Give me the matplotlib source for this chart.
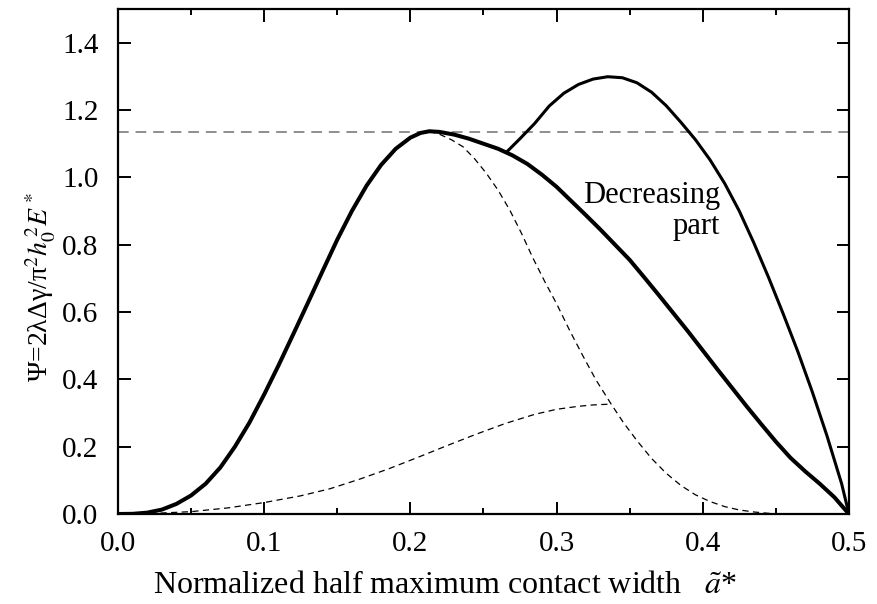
import matplotlib
matplotlib.use("Agg")
import matplotlib.pyplot as plt
from matplotlib.ticker import MultipleLocator, FormatStrFormatter

plt.rcParams["font.family"] = ["Liberation Serif", "DejaVu Serif"]
plt.rcParams["mathtext.fontset"] = "stix"

# main curve (full branch)
main_x = [0.000, 0.010, 0.020, 0.030, 0.040, 0.050, 0.060, 0.070, 0.080, 0.090,
          0.100, 0.110, 0.120, 0.130, 0.140, 0.150, 0.160, 0.170, 0.180, 0.190,
          0.200, 0.207, 0.213, 0.220, 0.230, 0.240, 0.250, 0.260, 0.270, 0.280,
          0.290, 0.300, 0.310, 0.320, 0.330, 0.340, 0.350, 0.360, 0.370, 0.380,
          0.390, 0.400, 0.410, 0.420, 0.430, 0.440, 0.450, 0.460, 0.470, 0.480,
          0.490, 0.500]
main_y = [0.000, 0.0005, 0.004, 0.013, 0.030, 0.055, 0.090, 0.138, 0.200, 0.272,
          0.355, 0.443, 0.535, 0.628, 0.722, 0.815, 0.900, 0.975, 1.037, 1.085,
          1.118, 1.132, 1.137, 1.135, 1.127, 1.115, 1.100, 1.085, 1.065, 1.040,
          1.008, 0.972, 0.930, 0.888, 0.845, 0.800, 0.755, 0.703, 0.650, 0.596,
          0.542, 0.486, 0.430, 0.375, 0.320, 0.267, 0.215, 0.167, 0.127, 0.090,
          0.050, 0.000]

# upper branch
upper_x = [0.266, 0.275, 0.285, 0.295, 0.305, 0.315, 0.325, 0.335, 0.345, 0.355,
           0.365, 0.375, 0.385, 0.395, 0.405, 0.415, 0.425, 0.435, 0.445, 0.455,
           0.465, 0.475, 0.485, 0.495, 0.500]
upper_y = [1.076, 1.115, 1.160, 1.212, 1.250, 1.276, 1.292, 1.299, 1.296, 1.281,
           1.253, 1.213, 1.164, 1.112, 1.052, 0.982, 0.900, 0.805, 0.703, 0.595,
           0.483, 0.362, 0.232, 0.090, 0.000]

# dashed curve falling from the peak
drop_x = [0.213, 0.220, 0.228, 0.236, 0.244, 0.252, 0.260, 0.268, 0.276, 0.284,
          0.292, 0.300, 0.309, 0.318, 0.327, 0.337, 0.346, 0.355, 0.365, 0.375,
          0.385, 0.395, 0.405, 0.415, 0.425, 0.435, 0.445, 0.455, 0.500]
drop_y = [1.137, 1.128, 1.112, 1.091, 1.055, 1.012, 0.962, 0.903, 0.834, 0.759,
          0.690, 0.625, 0.545, 0.470, 0.398, 0.329, 0.270, 0.218, 0.165, 0.121,
          0.085, 0.057, 0.037, 0.022, 0.012, 0.006, 0.002, 0.000, 0.000]

# lower dashed curve
low_x = [0.000, 0.025, 0.050, 0.075, 0.100, 0.125, 0.145, 0.165, 0.185, 0.205,
         0.225, 0.245, 0.265, 0.285, 0.300, 0.315, 0.325, 0.335]
low_y = [0.000, 0.002, 0.007, 0.018, 0.034, 0.054, 0.075, 0.103, 0.134, 0.168,
         0.203, 0.237, 0.269, 0.296, 0.311, 0.320, 0.324, 0.326]

psi_max = 1.135

fig = plt.figure(figsize=(8.77, 6.04), dpi=100)
ax = fig.add_axes([0.1345, 0.149, 0.8335, 0.836])

ax.axhline(psi_max, color="#707070", lw=1.1, dashes=(7, 4.5))
ax.plot(low_x, low_y, color="black", lw=0.9, dashes=(5, 3.5))
ax.plot(drop_x, drop_y, color="black", lw=0.9, dashes=(5, 3.5))
ax.plot(upper_x, upper_y, color="black", lw=2.2, solid_capstyle="butt")
ax.plot(main_x, main_y, color="black", lw=2.9, solid_joinstyle="round")

ax.text(0.412, 0.90, "Decreasing\npart", ha="right", va="center",
        fontsize=22, linespacing=1.1)

ax.set_xlim(0, 0.5)
ax.set_ylim(0, 1.5)
ax.xaxis.set_major_locator(MultipleLocator(0.1))
ax.xaxis.set_minor_locator(MultipleLocator(0.05))
ax.set_yticks([0.0, 0.2, 0.4, 0.6, 0.8, 1.0, 1.2, 1.4])
ax.xaxis.set_major_formatter(FormatStrFormatter("%.1f"))
ax.yaxis.set_major_formatter(FormatStrFormatter("%.1f"))

ax.tick_params(which="both", direction="in", top=True, right=True,
               labelsize=21, width=1.4)
ax.tick_params(which="major", length=9)
ax.tick_params(axis="x", which="major", pad=12)
ax.tick_params(axis="y", which="major", pad=14)
ax.tick_params(which="minor", length=4.5)
for s in ax.spines.values():
    s.set_linewidth(1.6)

ax.set_xlabel("Normalized half maximum contact width   $\\tilde{a}$*",
              fontsize=23)
ax.xaxis.set_label_coords(0.447, -0.112)
ax.set_ylabel("Ψ=2λΔγ/π$^2$$h_0^{\\,2}$$E^*$", fontsize=20)
ax.yaxis.set_label_coords(-0.082, 0.45)

fig.savefig("out.png", dpi=100)
